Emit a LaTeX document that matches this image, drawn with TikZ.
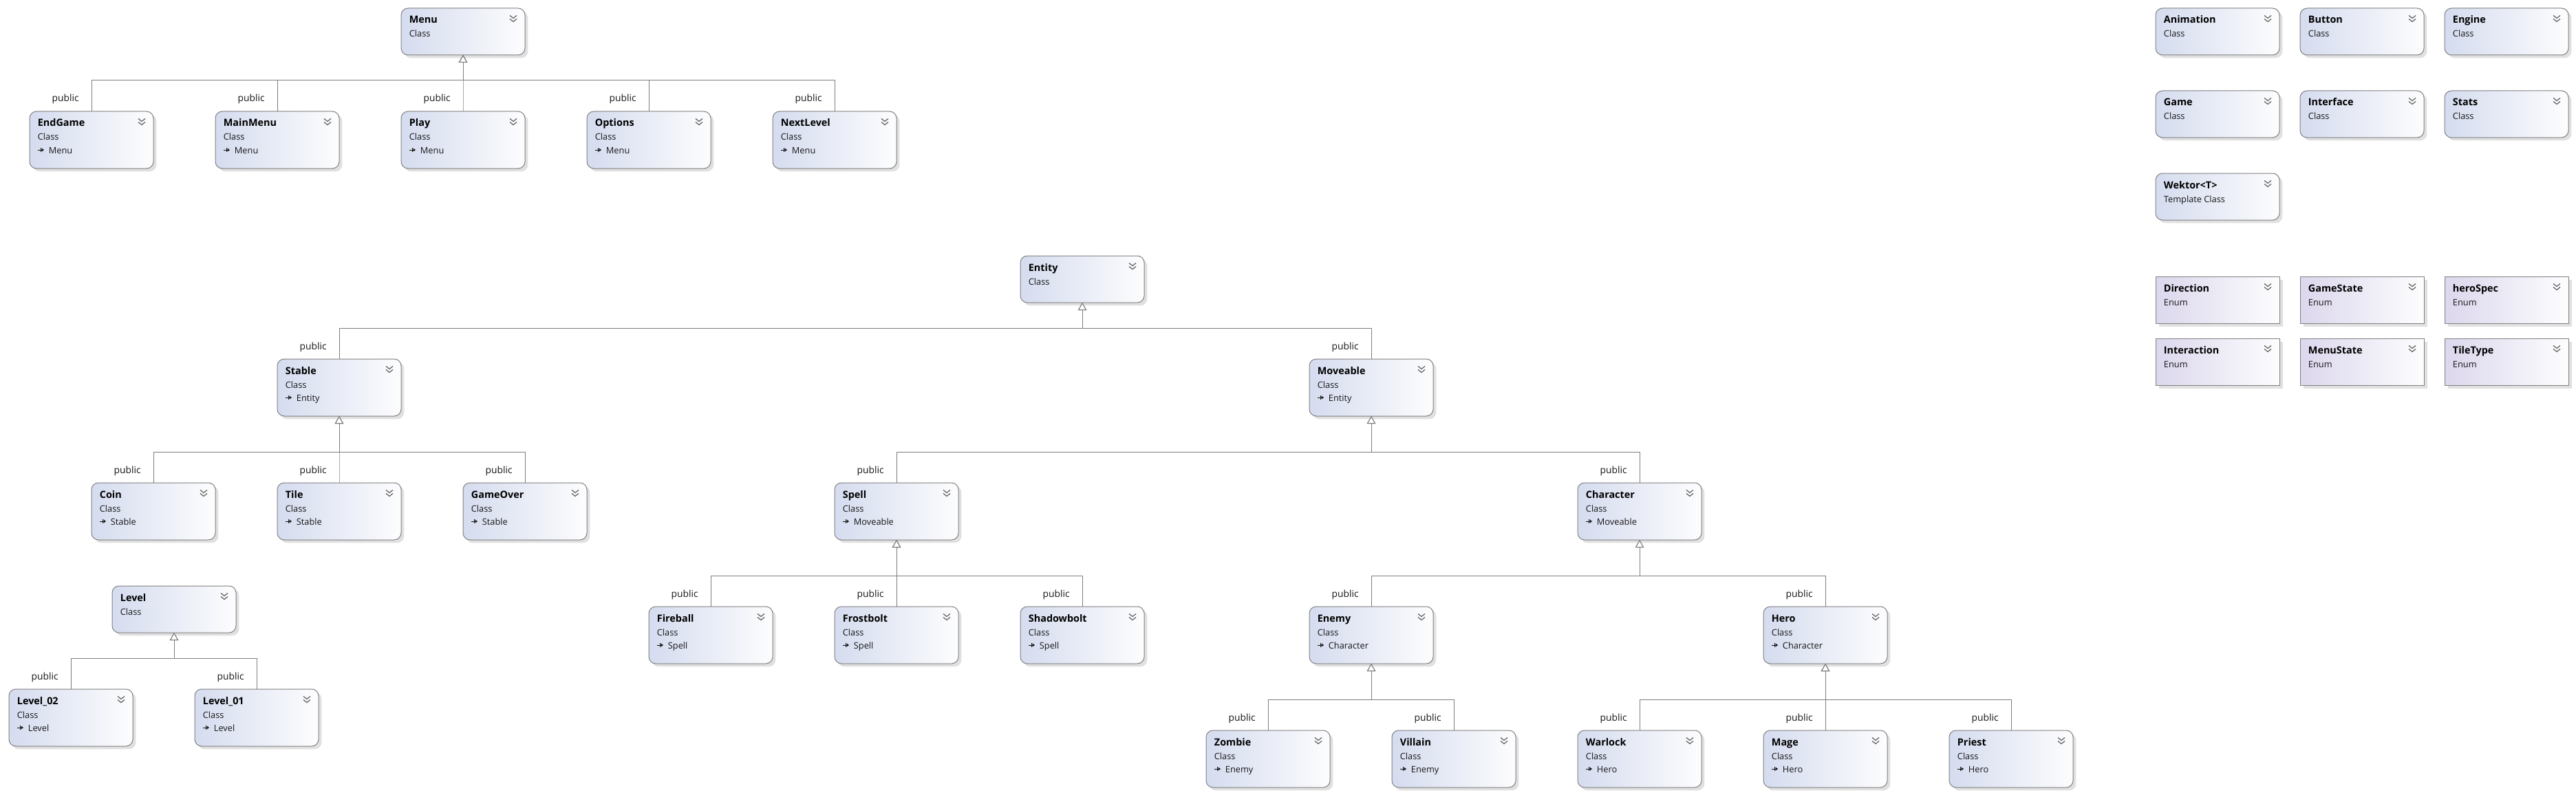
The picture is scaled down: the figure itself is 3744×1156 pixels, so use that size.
\documentclass[tikz,border=0pt]{standalone}
\usepackage{fontspec}
\setmainfont{Open Sans}
\usetikzlibrary{arrows.meta,shadows}
\definecolor{clsL}{RGB}{213,220,239}
\definecolor{clsR}{RGB}{253,253,254}
\definecolor{enmL}{RGB}{220,215,237}
\definecolor{bord}{RGB}{128,128,128}
\definecolor{lnc}{RGB}{125,125,125}
\definecolor{shd}{RGB}{224,224,224}
\definecolor{txt}{RGB}{22,22,22}
\definecolor{chv}{RGB}{95,95,95}
\tikzset{
  clsbox/.style={draw=bord, line width=0.5pt, rounded corners=5pt,
    left color=clsL, right color=clsR, minimum width=90pt, anchor=north west,
    inner sep=0pt, outer sep=0pt,
    drop shadow={shadow xshift=2.2pt, shadow yshift=-2.2pt, fill=shd, opacity=1}},
  enmbox/.style={draw=bord, line width=0.5pt,
    left color=enmL, right color=clsR, minimum width=90pt, anchor=north west,
    inner sep=0pt, outer sep=0pt,
    drop shadow={shadow xshift=2.6pt, shadow yshift=-2.6pt, fill=shd, opacity=1}},
  ttl/.style={anchor=base west, inner sep=0pt, text=black,
    font=\fontsize{7.2}{8}\selectfont\bfseries},
  sub/.style={anchor=base west, inner sep=0pt, text=txt,
    font=\fontsize{6.4}{8}\selectfont},
  lbl/.style={anchor=base east, inner sep=0pt, text=txt,
    font=\fontsize{6.9}{8}\selectfont},
  chevst/.style={draw=chv, line width=0.6pt},
  iconst/.style={draw=txt, line width=0.5pt},
  inhst/.style={draw=lnc, line width=0.5pt,
    -{Triangle[fill=white, length=5.5pt, width=6.2pt, line width=0.5pt]}},
}
% #1 name, #2 x, #3 y, #4 height(pt), #5 title, #6 kind, #7 parent
\newcommand{\cbox}[7]{%
  \node[clsbox, minimum height=#4] (#1) at (#2,#3) {};
  \node[ttl] (#1-t) at ([shift={(11.5,22)}]#1.north west) {#5};
  \node[sub] (#1-k) at ([shift={(11.5,42)}]#1.north west) {#6};
  \draw[chevst] ([shift={(158,10.5)}]#1.north west) -- ++(5,4) -- ++(5,-4)
                ([shift={(158,15.5)}]#1.north west) -- ++(5,4) -- ++(5,-4);
  \def\tmpparent{#7}%
  \ifx\tmpparent\empty\else
    \node[sub] (#1-p) at ([shift={(27.5,61)}]#1.north west) {#7};
    \draw[iconst] ([shift={(12,56)}]#1.north west) -- ++(6,0);
    \draw[iconst] ([shift={(16.5,53)}]#1.north west) -- ++(0,6);
    \fill[txt] ([shift={(21,56)}]#1.north west) -- ++(-3.5,-2.6) -- ++(0,5.2) -- cycle;
  \fi
}
\newcommand{\ebox}[4]{%
  \node[enmbox, minimum height=34pt] (#1) at (#2,#3) {};
  \node[ttl] (#1-t) at ([shift={(11.5,22)}]#1.north west) {#4};
  \node[sub] (#1-k) at ([shift={(11.5,42)}]#1.north west) {Enum};
  \draw[chevst] ([shift={(158,10.5)}]#1.north west) -- ++(5,4) -- ++(5,-4)
                ([shift={(158,15.5)}]#1.north west) -- ++(5,4) -- ++(5,-4);
}
\newcommand{\inh}[2]{%
  \draw[inhst] (#1.north) -- ++(0,-45) -| (#2.south);
  \node[lbl] (#1-lbl) at ([shift={(-18,-14)}]#1.north) {public};
}
\begin{document}
\begin{tikzpicture}[x=0.5pt,y=-0.5pt]
\useasboundingbox (0,0) rectangle (3744,1156);
% --- Menu hierarchy
\cbox{menu}{583}{12}{34pt}{Menu}{Class}{}
\cbox{endgame}{43}{162}{41.5pt}{EndGame}{Class}{Menu}
\cbox{mainmenu}{313}{162}{41.5pt}{MainMenu}{Class}{Menu}
\cbox{play}{583}{162}{41.5pt}{Play}{Class}{Menu}
\cbox{options}{853}{162}{41.5pt}{Options}{Class}{Menu}
\cbox{nextlevel}{1123}{162}{41.5pt}{NextLevel}{Class}{Menu}
% --- standalone classes
\cbox{animation}{3133}{12}{34pt}{Animation}{Class}{}
\cbox{button}{3343}{12}{34pt}{Button}{Class}{}
\cbox{engine}{3553}{12}{34pt}{Engine}{Class}{}
\cbox{game}{3133}{132}{34pt}{Game}{Class}{}
\cbox{interface}{3343}{132}{34pt}{Interface}{Class}{}
\cbox{stats}{3553}{132}{34pt}{Stats}{Class}{}
\cbox{wektor}{3133}{252}{34pt}{Wektor<T>}{Template Class}{}
% --- enums
\ebox{direction}{3133}{402}{Direction}
\ebox{gamestate}{3343}{402}{GameState}
\ebox{herospec}{3553}{402}{heroSpec}
\ebox{interaction}{3133}{492}{Interaction}
\ebox{menustate}{3343}{492}{MenuState}
\ebox{tiletype}{3553}{492}{TileType}
% --- Entity hierarchy
\cbox{entity}{1483}{372}{34pt}{Entity}{Class}{}
\cbox{stable}{403}{522}{41.5pt}{Stable}{Class}{Entity}
\cbox{moveable}{1903}{522}{41.5pt}{Moveable}{Class}{Entity}
\cbox{coin}{133}{702}{41.5pt}{Coin}{Class}{Stable}
\cbox{tile}{403}{702}{41.5pt}{Tile}{Class}{Stable}
\cbox{gameover}{673}{702}{41.5pt}{GameOver}{Class}{Stable}
\cbox{spell}{1213}{702}{41.5pt}{Spell}{Class}{Moveable}
\cbox{character}{2293}{702}{41.5pt}{Character}{Class}{Moveable}
\cbox{fireball}{943}{882}{41.5pt}{Fireball}{Class}{Spell}
\cbox{frostbolt}{1213}{882}{41.5pt}{Frostbolt}{Class}{Spell}
\cbox{shadowbolt}{1483}{882}{41.5pt}{Shadowbolt}{Class}{Spell}
\cbox{enemy}{1903}{882}{41.5pt}{Enemy}{Class}{Character}
\cbox{hero}{2563}{882}{41.5pt}{Hero}{Class}{Character}
\cbox{zombie}{1753}{1062}{41.5pt}{Zombie}{Class}{Enemy}
\cbox{villain}{2023}{1062}{41.5pt}{Villain}{Class}{Enemy}
\cbox{warlock}{2293}{1062}{41.5pt}{Warlock}{Class}{Hero}
\cbox{mage}{2563}{1062}{41.5pt}{Mage}{Class}{Hero}
\cbox{priest}{2833}{1062}{41.5pt}{Priest}{Class}{Hero}
% --- Level hierarchy
\cbox{level}{163}{852}{34pt}{Level}{Class}{}
\cbox{level02}{13}{1002}{41.5pt}{Level\_02}{Class}{Level}
\cbox{level01}{283}{1002}{41.5pt}{Level\_01}{Class}{Level}
% --- inheritance connectors
\inh{endgame}{menu}
\inh{mainmenu}{menu}
\inh{play}{menu}
\inh{options}{menu}
\inh{nextlevel}{menu}
\inh{stable}{entity}
\inh{moveable}{entity}
\inh{coin}{stable}
\inh{tile}{stable}
\inh{gameover}{stable}
\inh{spell}{moveable}
\inh{character}{moveable}
\inh{fireball}{spell}
\inh{frostbolt}{spell}
\inh{shadowbolt}{spell}
\inh{enemy}{character}
\inh{hero}{character}
\inh{zombie}{enemy}
\inh{villain}{enemy}
\inh{warlock}{hero}
\inh{mage}{hero}
\inh{priest}{hero}
\inh{level02}{level}
\inh{level01}{level}
\end{tikzpicture}
\end{document}
